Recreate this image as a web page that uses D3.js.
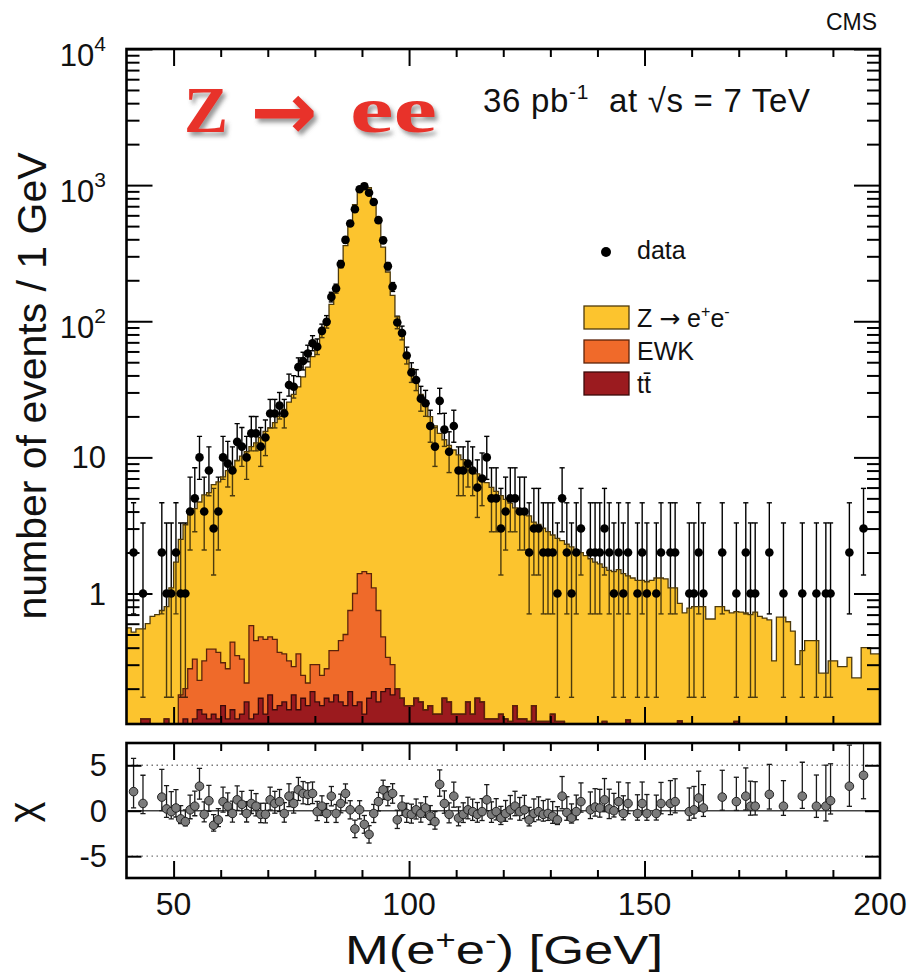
<!DOCTYPE html>
<html>
<head>
<meta charset="utf-8">
<title>Z → ee invariant mass</title>
<script src="https://cdn.jsdelivr.net/npm/d3@7/dist/d3.min.js"></script>
<style>
  html, body { margin: 0; padding: 0; background: #fff; }
  svg text { font-family: "Liberation Sans", Arial, Helvetica, sans-serif; fill: #111; }
</style>
</head>
<body>
<svg id="chart" width="907" height="973"></svg>
<script>
// ---------------- values (1 GeV bins from 40 to 200 GeV) ----------------
const massMin = 40, massMax = 200, binWidth = 1;

// observed events per bin
const dataCounts = [
  0, 2, 0, 1, 0, 0, 0, 2, 1, 1,            // 40-49
  2, 1, 1, 4, 5, 10, 4, 8, 3, 4,           // 50-59
  10, 9, 8, 13, 12, 10, 15, 15, 12, 14,    // 60-69
  21, 21, 24, 21, 34, 33, 46, 51, 58, 69,  // 70-79
  65, 85, 99, 151, 174, 263, 396, 522, 666, 933,   // 80-89
  982, 879, 752, 553, 393, 254, 179, 98, 82, 56,   // 90-99
  42, 37, 27, 25, 17, 12, 26, 16, 11, 17,  // 100-109
  8, 8, 9, 8, 6, 7, 10, 5, 5, 3,           // 110-119
  4, 5, 5, 4, 4, 2, 3, 3, 2, 2,            // 120-129
  2, 1, 5, 2, 1, 2, 3, 0, 2, 2,            // 130-139
  2, 3, 2, 1, 2, 1, 2, 0, 1, 2,            // 140-149
  1, 0, 1, 2, 0, 2, 2, 0, 0, 1,            // 150-159
  1, 2, 1, 0, 0, 0, 2, 0, 0, 1,            // 160-169
  0, 2, 1, 1, 0, 0, 2, 0, 0, 1,            // 170-179
  0, 0, 0, 1, 0, 0, 1, 0, 1, 1,            // 180-189
  0, 0, 0, 2, 0, 0, 3, 0, 0, 0             // 190-199
];

// Z -> e+e- simulation, events per bin
const zeeMC = [
  0.56, 0.52, 0.55, 0.43, 0.48, 0.68, 0.70, 0.64, 0.68, 1.10,
  1.70, 2.32, 3.00, 3.52, 3.87, 4.47, 4.98, 5.11, 5.91, 6.23,
  6.89, 7.72, 8.16, 9.15, 9.87, 10.78, 11.42, 12.35, 13.52, 15.04,
  16.02, 17.54, 19.63, 22.14, 25.18, 28.71, 32.64, 38.75, 45.78, 54.7,
  65.7, 80.75, 101.7, 132.6, 177.6, 249.6, 359.5, 519.3, 719, 928.6,
  1028.6, 958.6, 758.9, 529.3, 349.5, 229.7, 154.7, 107.7, 77.8, 57.8,
  44.8, 35.8, 28.8, 23.8, 19.8, 16.9, 14.9, 13.3, 12.1, 11.2,
  10.3, 9.5, 8.7, 8.1, 7.4, 6.8, 6.4, 5.9, 5.5, 5.1,
  4.8, 4.5, 4.1, 4.0, 3.8, 3.6, 3.2, 3.1, 2.9, 2.73,
  2.56, 2.43, 2.33, 2.19, 2.09, 2.1, 2.0, 1.9, 1.8, 1.7,
  1.65, 1.44, 1.48, 1.45, 1.5, 1.4, 1.23, 1.3, 1.25, 1.25,
  1.22, 1.25, 1.3, 1.3, 1.28, 1.1, 1.1, 0.73, 0.72, 0.78,
  0.8, 0.8, 0.8, 0.65, 0.65, 0.8, 0.8, 0.75, 0.72, 0.62,
  0.73, 0.72, 0.7, 0.73, 0.68, 0.66, 0.64, 0.32, 0.67, 0.67,
  0.62, 0.53, 0.3, 0.38, 0.45, 0.45, 0.45, 0.26, 0.26, 0.32,
  0.32, 0.29, 0.29, 0.34, 0.24, 0.24, 0.4, 0.4, 0.36, 0.36
];

// electroweak backgrounds (W, Z -> tau tau, ...)
const ewkMC = [
  0, 0, 0, 0, 0, 0, 0, 0, 0, 0,
  0, 0.07, 0.08, 0.17, 0.21, 0.09, 0.19, 0.27, 0.26, 0.25,
  0.16, 0.16, 0.30, 0.23, 0.20, 0.06, 0.46, 0.32, 0.31, 0.33,
  0.30, 0.32, 0.22, 0.20, 0.18, 0.11, 0.22, 0.08, 0.07, 0.11,
  0.14, 0.10, 0.11, 0.22, 0.20, 0.29, 0.35, 0.56, 0.85, 1.24,
  1.32, 1.23, 0.91, 0.59, 0.29, 0.14, 0.12, 0, 0, 0,
  0, 0, 0, 0, 0, 0, 0, 0, 0, 0,
  0, 0, 0, 0, 0, 0, 0, 0, 0, 0,
  0, 0, 0, 0, 0, 0, 0, 0, 0, 0,
  0, 0, 0, 0, 0, 0, 0, 0, 0, 0,
  0, 0, 0, 0, 0, 0, 0, 0, 0, 0,
  0, 0, 0, 0, 0, 0, 0, 0, 0, 0,
  0, 0, 0, 0, 0, 0, 0, 0, 0, 0,
  0, 0, 0, 0, 0, 0, 0, 0, 0, 0,
  0, 0, 0, 0, 0, 0, 0, 0, 0, 0,
  0, 0, 0, 0, 0, 0, 0, 0, 0, 0
];

// top-pair background
const ttbarMC = [
  0, 0, 0, 0.12, 0.12, 0, 0, 0.11, 0.12, 0,
  0, 0.11, 0.12, 0.11, 0.12, 0.14, 0.13, 0.12, 0.13, 0.12,
  0.15, 0.12, 0.14, 0.12, 0.13, 0.16, 0.12, 0.13, 0.17, 0.13,
  0.18, 0.14, 0.15, 0.16, 0.14, 0.18, 0.14, 0.17, 0.15, 0.19,
  0.16, 0.15, 0.17, 0.16, 0.18, 0.16, 0.15, 0.19, 0.15, 0.16,
  0.13, 0.17, 0.19, 0.16, 0.19, 0.20, 0.18, 0.20, 0.17, 0.15,
  0.15, 0.17, 0.16, 0.14, 0.15, 0.13, 0.13, 0.17, 0.16, 0.13,
  0.13, 0.13, 0.16, 0.13, 0.17, 0.16, 0.12, 0.12, 0.12, 0.13,
  0.12, 0.115, 0.15, 0.12, 0.12, 0.115, 0.15, 0.115, 0.115, 0.115,
  0.13, 0.115, 0.115, 0.11, 0.11, 0, 0, 0, 0, 0,
  0, 0.115, 0, 0, 0, 0, 0.118, 0, 0, 0,
  0, 0, 0, 0, 0, 0, 0, 0.116, 0, 0,
  0, 0, 0, 0, 0, 0, 0, 0, 0, 0.115,
  0, 0, 0, 0, 0, 0, 0, 0, 0, 0,
  0, 0, 0, 0, 0, 0, 0, 0, 0, 0,
  0, 0, 0, 0, 0, 0, 0, 0, 0, 0
];

// pull (data - MC) / sigma for every filled bin; null where no events
const chiValues = [
  null, 2.1, null, 0.8, null, null, null, 1.5, 0.2, -0.1,
  0.3, -0.9, -1.2, 0.1, 0.5, 2.7, -0.4, 1.1, -1.6, -1.0,
  1.0, 0.5, -0.3, 1.2, 0.7, -0.3, 0.8, 0.5, -0.4, -0.4,
  1.2, 0.8, 1.0, -0.3, 1.6, 0.8, 2.3, 1.9, 1.8, 1.9,
  -0.1, 0.5, -0.3, 1.6, -0.3, 0.8, 1.9, 0.1, -2.0, 0.1,
  -1.5, -2.6, -0.3, 1.0, 2.3, 1.6, 1.9, -1.0, 0.5, -0.3,
  -0.4, 0.1, -0.3, 0.3, -0.6, -1.2, 2.9, 0.8, -0.4, 1.6,
  -0.8, -0.4, 0.1, -0.1, -0.4, -0.1, 1.2, -0.4, -0.1, -0.8,
  -0.3, 0.1, 0.5, -0.1, 0.1, -1.0, -0.3, -0.1, -0.4, -0.3,
  -0.6, -1.0, 1.6, -0.2, -0.8, -0.1, 1.0, null, 0.1, 0.4,
  0.3, 1.2, 0.2, 0.0, 1.0, -0.3, 0.8, null, -0.3, 0.8,
  -0.3, null, -0.3, 0.8, null, 0.8, 1.0, null, null, -0.1,
  0.1, 1.4, 0.3, null, null, null, 1.5, null, null, 1.0,
  null, 1.6, 0.5, 0.5, null, null, 1.8, null, null, 0.5,
  null, null, null, 1.6, null, null, 0.5, null, 0.5, 1.1,
  null, null, null, 2.7, null, null, 3.9, null, null, null
];

const yTickValues = [1e4, 1e3, 1e2, 10, 1];
const yTickBase = ["10", "10", "10", "10", "1"];
const yTickExp = ["4", "3", "2", "", ""];
const xTickValues = [50, 100, 150, 200];
const xTickLabels = ["50", "100", "150", "200"];
const chiTickValues = [5, 0, -5];
const chiTickLabels = ["5", "0", "-5"];

// ---------------- layout and style ----------------
const frame = { left: 126.5, right: 880, top: 49, bottom: 724 };
const chiFrame = { left: 126.5, right: 880, top: 743, bottom: 878 };
const yMin = 0.11, yMax = 1e4;
const colors = { zee: "#FCC42E", ewk: "#F06A2A", tt: "#9B1B1F" };
const edgeColors = { zee: "#4d3a0c", ewk: "#5c2309", tt: "#3b0a0a" };
const serif = '"Liberation Serif", "Times New Roman", Times, serif';

// ---------------- Poisson (Garwood) 68% intervals ----------------
const lnFact = [0];
for (let i = 1; i <= 200; i++) lnFact[i] = lnFact[i - 1] + Math.log(i);
function poissonCdf(k, lam) {
  let s = 0;
  for (let i = 0; i <= k; i++) s += Math.exp(-lam + i * Math.log(lam) - lnFact[i]);
  return s;
}
function bisect(f, a, b) {
  for (let it = 0; it < 60; it++) {
    const m = (a + b) / 2;
    if (f(m) > 0) b = m; else a = m;
  }
  return (a + b) / 2;
}
const tailProb = 0.158655;
function poissonInterval(n) {
  if (n > 100) { const s = Math.sqrt(n); return [n - s, n + s]; }
  const lo = n === 0 ? 0 : bisect(l => (1 - poissonCdf(n - 1, l)) - tailProb, 1e-6, n);
  const hi = bisect(l => tailProb - poissonCdf(n, l), n, n + 10 * Math.sqrt(n + 1) + 10);
  return [lo, hi];
}

// ---------------- scales ----------------
const svg = d3.select("#chart");
const x = d3.scaleLinear().domain([massMin, massMax]).range([frame.left, frame.right]);
const y = d3.scaleLog().domain([yMin, yMax]).range([frame.bottom, frame.top]);
const yChi = d3.scaleLinear().domain([-7.4, 7.45]).range([chiFrame.bottom, chiFrame.top]);

const defs = svg.append("defs");
defs.append("clipPath").attr("id", "clipMain").append("rect")
  .attr("x", frame.left).attr("y", frame.top)
  .attr("width", frame.right - frame.left).attr("height", frame.bottom - frame.top);
defs.append("clipPath").attr("id", "clipChi").append("rect")
  .attr("x", chiFrame.left).attr("y", chiFrame.top)
  .attr("width", chiFrame.right - chiFrame.left).attr("height", chiFrame.bottom - chiFrame.top);
const shadow = defs.append("filter").attr("id", "titleShadow")
  .attr("x", "-20%").attr("y", "-20%").attr("width", "150%").attr("height", "150%");
shadow.append("feGaussianBlur").attr("in", "SourceAlpha").attr("stdDeviation", 2).attr("result", "blur");
shadow.append("feOffset").attr("in", "blur").attr("dx", 3).attr("dy", 4).attr("result", "off");
shadow.append("feFlood").attr("flood-color", "#555").attr("flood-opacity", 0.6).attr("result", "col");
shadow.append("feComposite").attr("in", "col").attr("in2", "off").attr("operator", "in").attr("result", "sh");
const merge = shadow.append("feMerge");
merge.append("feMergeNode").attr("in", "sh");
merge.append("feMergeNode").attr("in", "SourceGraphic");

// ---------------- stacked simulation ----------------
const rows = dataCounts.map((n, i) => ({
  low: massMin + i * binWidth, n,
  zee: zeeMC[i], ewk: ewkMC[i], tt: ttbarMC[i], chi: chiValues[i]
}));
const layers = d3.stack().keys(["tt", "ewk", "zee"])(rows);
const floorV = yMin * 0.5;
const cl = v => Math.max(v, floorV);
const steps = L => L.flatMap(d => [
  { m: d.data.low, lo: d[0], hi: d[1] },
  { m: d.data.low + binWidth, lo: d[0], hi: d[1] }
]);
const band = d3.area().x(p => x(p.m)).y0(p => y(cl(p.lo))).y1(p => y(cl(p.hi)));
const edge = d3.line().x(p => x(p.m)).y(p => y(cl(p.hi)));

const mainG = svg.append("g").attr("clip-path", "url(#clipMain)");
layers.forEach(L => mainG.append("path").attr("d", band(steps(L))).attr("fill", colors[L.key]));

// data with Poisson error bars
const obs = rows.filter(r => r.n > 0).map(r => {
  const [lo, hi] = poissonInterval(r.n);
  return Object.assign({}, r, { lo, hi, xc: x(r.low + binWidth / 2) });
});
const capW = 2.6;
const errG = mainG.append("g").attr("stroke", "#000").attr("stroke-width", 1.4);
obs.forEach(o => {
  const yl = y(Math.max(o.lo, floorV)), yh = y(o.hi);
  errG.append("line").attr("x1", o.xc).attr("x2", o.xc).attr("y1", yl).attr("y2", yh);
  errG.append("line").attr("x1", o.xc - capW).attr("x2", o.xc + capW).attr("y1", yh).attr("y2", yh);
  if (o.lo > 0) errG.append("line").attr("x1", o.xc - capW).attr("x2", o.xc + capW).attr("y1", yl).attr("y2", yl);
});
// translucent pass of the fills so bars inside the stack look muted
layers.forEach(L => mainG.append("path").attr("d", band(steps(L)))
  .attr("fill", colors[L.key]).attr("opacity", 0.3));
layers.forEach(L => mainG.append("path").attr("d", edge(steps(L)))
  .attr("fill", "none").attr("stroke", edgeColors[L.key]).attr("stroke-width", 1.3));
mainG.append("g").selectAll("circle").data(obs).join("circle")
  .attr("cx", o => o.xc).attr("cy", o => y(o.n)).attr("r", 4.3).attr("fill", "#000");

// ---------------- main panel axes ----------------
const minorY = [];
for (let d = -1; d <= 3; d++) for (let k = 2; k <= 9; k++) {
  const v = k * Math.pow(10, d);
  if (v >= yMin && v <= yMax) minorY.push(v);
}
const minorX = d3.range(50, 200, 10).filter(v => !xTickValues.includes(v));
const majorX = xTickValues.filter(v => v < massMax);

function styleAxis(g) {
  g.select(".domain").remove();
  g.selectAll("line").attr("stroke", "#000").attr("stroke-width", 2);
  g.selectAll("text").remove();
}
function addAxis(axis, tx, ty) {
  svg.append("g").attr("transform", `translate(${tx},${ty})`).call(axis).call(styleAxis);
}
addAxis(d3.axisLeft(y).tickValues(yTickValues).tickSize(-26), frame.left, 0);
addAxis(d3.axisLeft(y).tickValues(minorY).tickSize(-13), frame.left, 0);
addAxis(d3.axisRight(y).tickValues(yTickValues).tickSize(-26), frame.right, 0);
addAxis(d3.axisRight(y).tickValues(minorY).tickSize(-13), frame.right, 0);
addAxis(d3.axisTop(x).tickValues(majorX).tickSize(-17), 0, frame.top);
addAxis(d3.axisTop(x).tickValues(minorX).tickSize(-8), 0, frame.top);
addAxis(d3.axisBottom(x).tickValues(majorX).tickSize(-17), 0, frame.bottom);
addAxis(d3.axisBottom(x).tickValues(minorX).tickSize(-8), 0, frame.bottom);
svg.append("rect").attr("x", frame.left).attr("y", frame.top)
  .attr("width", frame.right - frame.left).attr("height", frame.bottom - frame.top)
  .attr("fill", "none").attr("stroke", "#000").attr("stroke-width", 2.6);

// y tick labels (powers of ten)
yTickValues.forEach((v, i) => {
  const hasExp = yTickExp[i] !== "";
  const t = svg.append("text").attr("x", 106).attr("y", y(v) + (hasExp ? 17 : 11))
    .attr("text-anchor", "end").attr("font-size", 31);
  t.append("tspan").text(yTickBase[i]);
  if (hasExp) t.append("tspan").attr("dy", -15).attr("font-size", 21).text(yTickExp[i]);
});

// ---------------- pull panel ----------------
const chiG = svg.append("g").attr("clip-path", "url(#clipChi)");
[5, -5].forEach(v => chiG.append("line")
  .attr("x1", chiFrame.left).attr("x2", chiFrame.right).attr("y1", yChi(v)).attr("y2", yChi(v))
  .attr("stroke", "#777").attr("stroke-width", 1.3).attr("stroke-dasharray", "1.5,3.5"));
chiG.append("line").attr("x1", chiFrame.left).attr("x2", chiFrame.right)
  .attr("y1", yChi(0)).attr("y2", yChi(0)).attr("stroke", "#444").attr("stroke-width", 1.3);

const pulls = obs.filter(o => o.chi !== null).map(o => {
  const mc = o.zee + o.ewk + o.tt;
  const s = Math.sqrt(mc);
  return Object.assign({}, o, { eDown: (o.n - o.lo) / s, eUp: (o.hi - o.n) / s });
});
const chiErr = chiG.append("g").attr("stroke", "#1a1a1a").attr("stroke-width", 1.3);
pulls.forEach(p => {
  const yl = yChi(p.chi - p.eDown), yh = yChi(p.chi + p.eUp);
  chiErr.append("line").attr("x1", p.xc).attr("x2", p.xc).attr("y1", yl).attr("y2", yh);
  chiErr.append("line").attr("x1", p.xc - capW).attr("x2", p.xc + capW).attr("y1", yl).attr("y2", yl);
  chiErr.append("line").attr("x1", p.xc - capW).attr("x2", p.xc + capW).attr("y1", yh).attr("y2", yh);
});
chiG.append("g").selectAll("circle").data(pulls).join("circle")
  .attr("cx", p => p.xc).attr("cy", p => yChi(p.chi)).attr("r", 4.3)
  .attr("fill", "#7b7b7b").attr("stroke", "#222").attr("stroke-width", 1);

addAxis(d3.axisLeft(yChi).tickValues(chiTickValues).tickSize(-15), chiFrame.left, 0);
addAxis(d3.axisRight(yChi).tickValues(chiTickValues).tickSize(-15), chiFrame.right, 0);
addAxis(d3.axisTop(x).tickValues(majorX).tickSize(-17), 0, chiFrame.top);
addAxis(d3.axisTop(x).tickValues(minorX).tickSize(-8), 0, chiFrame.top);
addAxis(d3.axisBottom(x).tickValues(majorX).tickSize(-17), 0, chiFrame.bottom);
addAxis(d3.axisBottom(x).tickValues(minorX).tickSize(-8), 0, chiFrame.bottom);
svg.append("rect").attr("x", chiFrame.left).attr("y", chiFrame.top)
  .attr("width", chiFrame.right - chiFrame.left).attr("height", chiFrame.bottom - chiFrame.top)
  .attr("fill", "none").attr("stroke", "#000").attr("stroke-width", 2.6);

chiTickValues.forEach((v, i) => svg.append("text")
  .attr("x", 107).attr("y", yChi(v) + 11).attr("text-anchor", "end")
  .attr("font-size", 31).text(chiTickLabels[i]));

xTickValues.forEach((v, i) => svg.append("text")
  .attr("x", x(v)).attr("y", 915).attr("text-anchor", "middle")
  .attr("font-size", 32).text(xTickLabels[i]));

// ---------------- titles ----------------
svg.append("text").attr("transform", "translate(46,386) rotate(-90)")
  .attr("text-anchor", "middle").attr("font-size", 41).text("number of events / 1 GeV");
svg.append("text").attr("transform", "translate(37,812) rotate(-90)")
  .attr("text-anchor", "middle").attr("font-size", 40).text("χ");

const xt = svg.append("text").attr("x", 504).attr("y", 964).attr("text-anchor", "middle")
  .attr("font-size", 41).attr("textLength", 318).attr("lengthAdjust", "spacingAndGlyphs");
xt.append("tspan").text("M(e");
xt.append("tspan").attr("dy", -15).attr("font-size", 27).text("+");
xt.append("tspan").attr("dy", 15).text("e");
xt.append("tspan").attr("dy", -15).attr("font-size", 27).text("-");
xt.append("tspan").attr("dy", 15).text(") [GeV]");

svg.append("text").attr("x", 877).attr("y", 30).attr("text-anchor", "end")
  .attr("font-size", 23).text("CMS");

const lumi = svg.append("text").attr("x", 483).attr("y", 112).attr("font-size", 33)
  .attr("textLength", 327).attr("lengthAdjust", "spacing");
lumi.append("tspan").text("36 pb");
lumi.append("tspan").attr("dy", -13).attr("font-size", 21).text("-1");
lumi.append("tspan").attr("dy", 13).text("\u00a0 at √s = 7 TeV");

// process label
const title = svg.append("g").attr("filter", "url(#titleShadow)");
title.append("text").attr("x", 184).attr("y", 132).attr("font-size", 66).attr("font-weight", "bold")
  .style("font-family", serif).style("fill", "#E8332B").text("Z");
title.append("text").attr("x", 284).attr("y", 139).attr("text-anchor", "middle").attr("font-size", 80)
  .attr("font-weight", "bold")
  .style("font-family", '"DejaVu Sans", sans-serif').style("fill", "#E8332B").text("→");
title.append("text").attr("x", 350).attr("y", 132).attr("font-size", 66).attr("font-weight", "bold")
  .attr("textLength", 87).attr("lengthAdjust", "spacingAndGlyphs")
  .style("font-family", serif).style("fill", "#E8332B").text("ee");

// ---------------- legend ----------------
svg.append("circle").attr("cx", 606).attr("cy", 252).attr("r", 5).attr("fill", "#000");
svg.append("text").attr("x", 637).attr("y", 259).attr("font-size", 25).text("data");
const legendKeys = ["zee", "ewk", "tt"];
const legendTops = [306, 340, 372];
legendKeys.forEach((k, i) => svg.append("rect")
  .attr("x", 584).attr("y", legendTops[i]).attr("width", 45).attr("height", 23)
  .attr("fill", colors[k]).attr("stroke", edgeColors[k]).attr("stroke-width", 1.3));
const lz = svg.append("text").attr("x", 637).attr("y", 327).attr("font-size", 25);
lz.append("tspan").text("Z ");
lz.append("tspan").attr("font-size", 25).style("font-family", '"DejaVu Sans", sans-serif').text("→");
lz.append("tspan").text(" e");
lz.append("tspan").attr("dy", -10).attr("font-size", 16).text("+");
lz.append("tspan").attr("dy", 10).text("e");
lz.append("tspan").attr("dy", -10).attr("font-size", 16).text("-");
svg.append("text").attr("x", 637).attr("y", 360).attr("font-size", 25).text("EWK");
svg.append("text").attr("x", 637).attr("y", 393).attr("font-size", 25).text("tt\u0304");
</script>
</body>
</html>
